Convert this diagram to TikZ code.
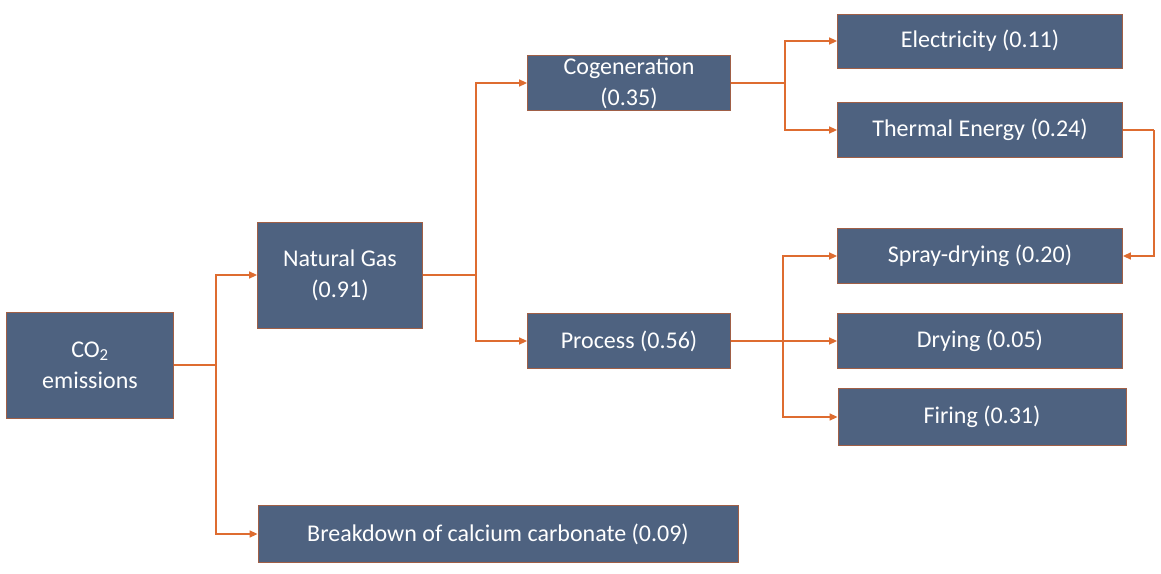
\documentclass[tikz,border=0pt]{standalone}
\usepackage{fontspec}
\setmainfont{Carlito}
\usetikzlibrary{arrows.meta}
\definecolor{slate}{RGB}{78,98,128}
\definecolor{flowor}{RGB}{222,108,48}
\definecolor{rim}{RGB}{160,95,70}

\begin{document}
\begin{tikzpicture}[x=1pt,y=-1pt,
  blk/.style={draw=rim, line width=0.8pt, fill=slate, text=white, align=center,
    inner sep=0pt, font=\fontsize{24}{31}\selectfont},
  link/.style={flowor, line width=1.5pt, -{Triangle[length=8pt,width=7pt]}},
  wire/.style={flowor, line width=1.5pt}]
  \useasboundingbox (0,0) rectangle (1161,573);
  % left column
  \node[blk, minimum width=167, minimum height=106] (co2) at (90,365) {CO\textsubscript{2}\\emissions};
  \node[blk, minimum width=165, minimum height=106] (gas) at (340,275) {Natural Gas\\(0.91)};
  \node[blk, minimum width=480, minimum height=57] (calc) at (498,534) {Breakdown of calcium carbonate (0.09)};
  % middle column
  \node[blk, minimum width=203, minimum height=55] (cogen) at (629,83) {Cogeneration\\(0.35)};
  \node[blk, minimum width=203, minimum height=55] (proc) at (629,341) {Process (0.56)};
  % right column
  \node[blk, minimum width=285, minimum height=54] (elec) at (980,41) {Electricity (0.11)};
  \node[blk, minimum width=285, minimum height=55] (therm) at (980,130) {Thermal Energy (0.24)};
  \node[blk, minimum width=285, minimum height=55] (spray) at (980,256) {Spray-drying (0.20)};
  \node[blk, minimum width=285, minimum height=55] (dry) at (980,341) {Drying (0.05)};
  \node[blk, minimum width=288, minimum height=57] (fire) at (982,417) {Firing (0.31)};
  % junctions
  \coordinate (j1) at (216,365);
  \coordinate (j2) at (476,275);
  \coordinate (j3) at (785,83);
  \coordinate (j4) at (783,341);
  \coordinate (j5) at (1154,130);
  % connectors
  \draw[wire] (co2.east) -- (j1);
  \draw[link] (j1) |- (gas);
  \draw[link] (j1) |- (calc);
  \draw[wire] (gas.east) -- (j2);
  \draw[link] (j2) |- (cogen);
  \draw[link] (j2) |- (proc);
  \draw[wire] (cogen.east) -- (j3);
  \draw[link] (j3) |- (elec);
  \draw[link] (j3) |- (therm);
  \draw[wire] (proc.east) -- (j4);
  \draw[link] (j4) |- (spray);
  \draw[link] (j4) -- (dry);
  \draw[link] (j4) |- (fire);
  \draw[wire] (therm.east) -- (j5);
  \draw[link] (j5) |- (spray);
\end{tikzpicture}
\end{document}
